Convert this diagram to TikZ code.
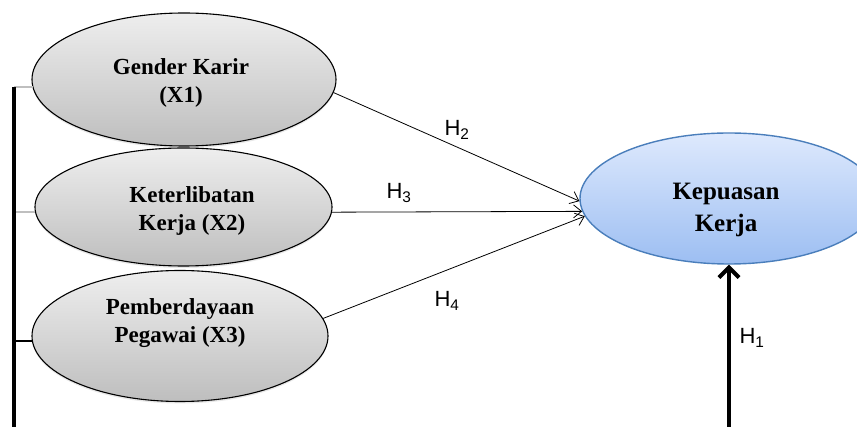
\documentclass[tikz,border=0pt]{standalone}
\usepackage{fontspec}
\setmainfont{Liberation Serif}
\newfontfamily\hypofont{Liberation Sans}
\usetikzlibrary{shapes.geometric,arrows.meta,shadows}
\definecolor{varTop}{RGB}{238,238,238}
\definecolor{varBottom}{RGB}{190,190,190}
\definecolor{kpTop}{RGB}{222,233,253}
\definecolor{kpBottom}{RGB}{156,190,242}
\definecolor{kpLine}{RGB}{74,126,187}
\tikzset{every picture/.style={line width=0.75pt},
  varnode/.style={ellipse, draw=black, line width=1.1pt, inner sep=0pt,
    top color=varTop, bottom color=varBottom,
    drop shadow={opacity=0.18, shadow xshift=0pt, shadow yshift=-2pt}},
  kpnode/.style={ellipse, draw=kpLine, line width=1.4pt, inner sep=0pt,
    top color=kpTop, bottom color=kpBottom},
  vartext/.style={align=center, font=\bfseries\fontsize{23}{28}\selectfont},
  kptext/.style={align=center, font=\bfseries\fontsize{25}{32}\selectfont},
  hypo/.style={font=\hypofont\fontsize{22}{26}\selectfont},
  linkarrow/.style={line width=0.8pt, -{Straight Barb[length=8pt,width=13pt]}}
}

\begin{document}
\begin{tikzpicture}[x=1pt,y=-1pt]
\useasboundingbox (0,0) rectangle (857,427);

%Shape: Ellipse X1
\node[varnode, minimum width=304pt, minimum height=133pt] (x1) at (184,79.5) {};
%Shape: Ellipse X2
\node[varnode, minimum width=297pt, minimum height=118pt] (x2) at (183.5,207) {};
%Shape: Ellipse X3
\node[varnode, minimum width=296pt, minimum height=131pt] (x3) at (180,336) {};
%Shape: Ellipse Y
\node[kpnode, minimum width=298pt, minimum height=131pt] (ky) at (729,198.5) {};

%Text
\node[vartext] (x1t) at (181,83) {Gender Karir\\(X1)};
\node[vartext] (x2t) at (192,211) {Keterlibatan\\Kerja (X2)};
\node[vartext] (x3t) at (180,323) {Pemberdayaan\\Pegawai (X3)};
\node[kptext] (kyt) at (726,210) {Kepuasan\\Kerja};

%Bracket
\coordinate (b1) at (14,87);
\coordinate (bend) at (14,427);
\coordinate (h1start) at (729,427);
\draw[line width=2pt, color=black!25] (x1.183 -| b1) -- (x1.183) ;
\draw[line width=2pt, color=black!25] (x2.182 -| b1) -- (x2.182) ;
\draw[line width=2.5pt] (x3.182 -| b1) -- (x3.182) ;
\draw[line width=3.5pt] (b1) -- (bend) ;

%Straight Lines
\draw[linkarrow] (x1.-5) -- (ky.181) ;
\draw[linkarrow] (x2.-2) -- (ky.185) ;
\draw[linkarrow] (x3.7) -- (ky.187) ;
\draw[line width=4pt, -{Straight Barb[length=10pt,width=20pt]}] (h1start) -- (ky.south) ;

%Labels
\node[hypo] (h2) at (457,130) {H\textsubscript{2}};
\node[hypo] (h3) at (399,193) {H\textsubscript{3}};
\node[hypo] (h4) at (447,301) {H\textsubscript{4}};
\node[hypo] (h1) at (752,338) {H\textsubscript{1}};

\end{tikzpicture}
\end{document}
